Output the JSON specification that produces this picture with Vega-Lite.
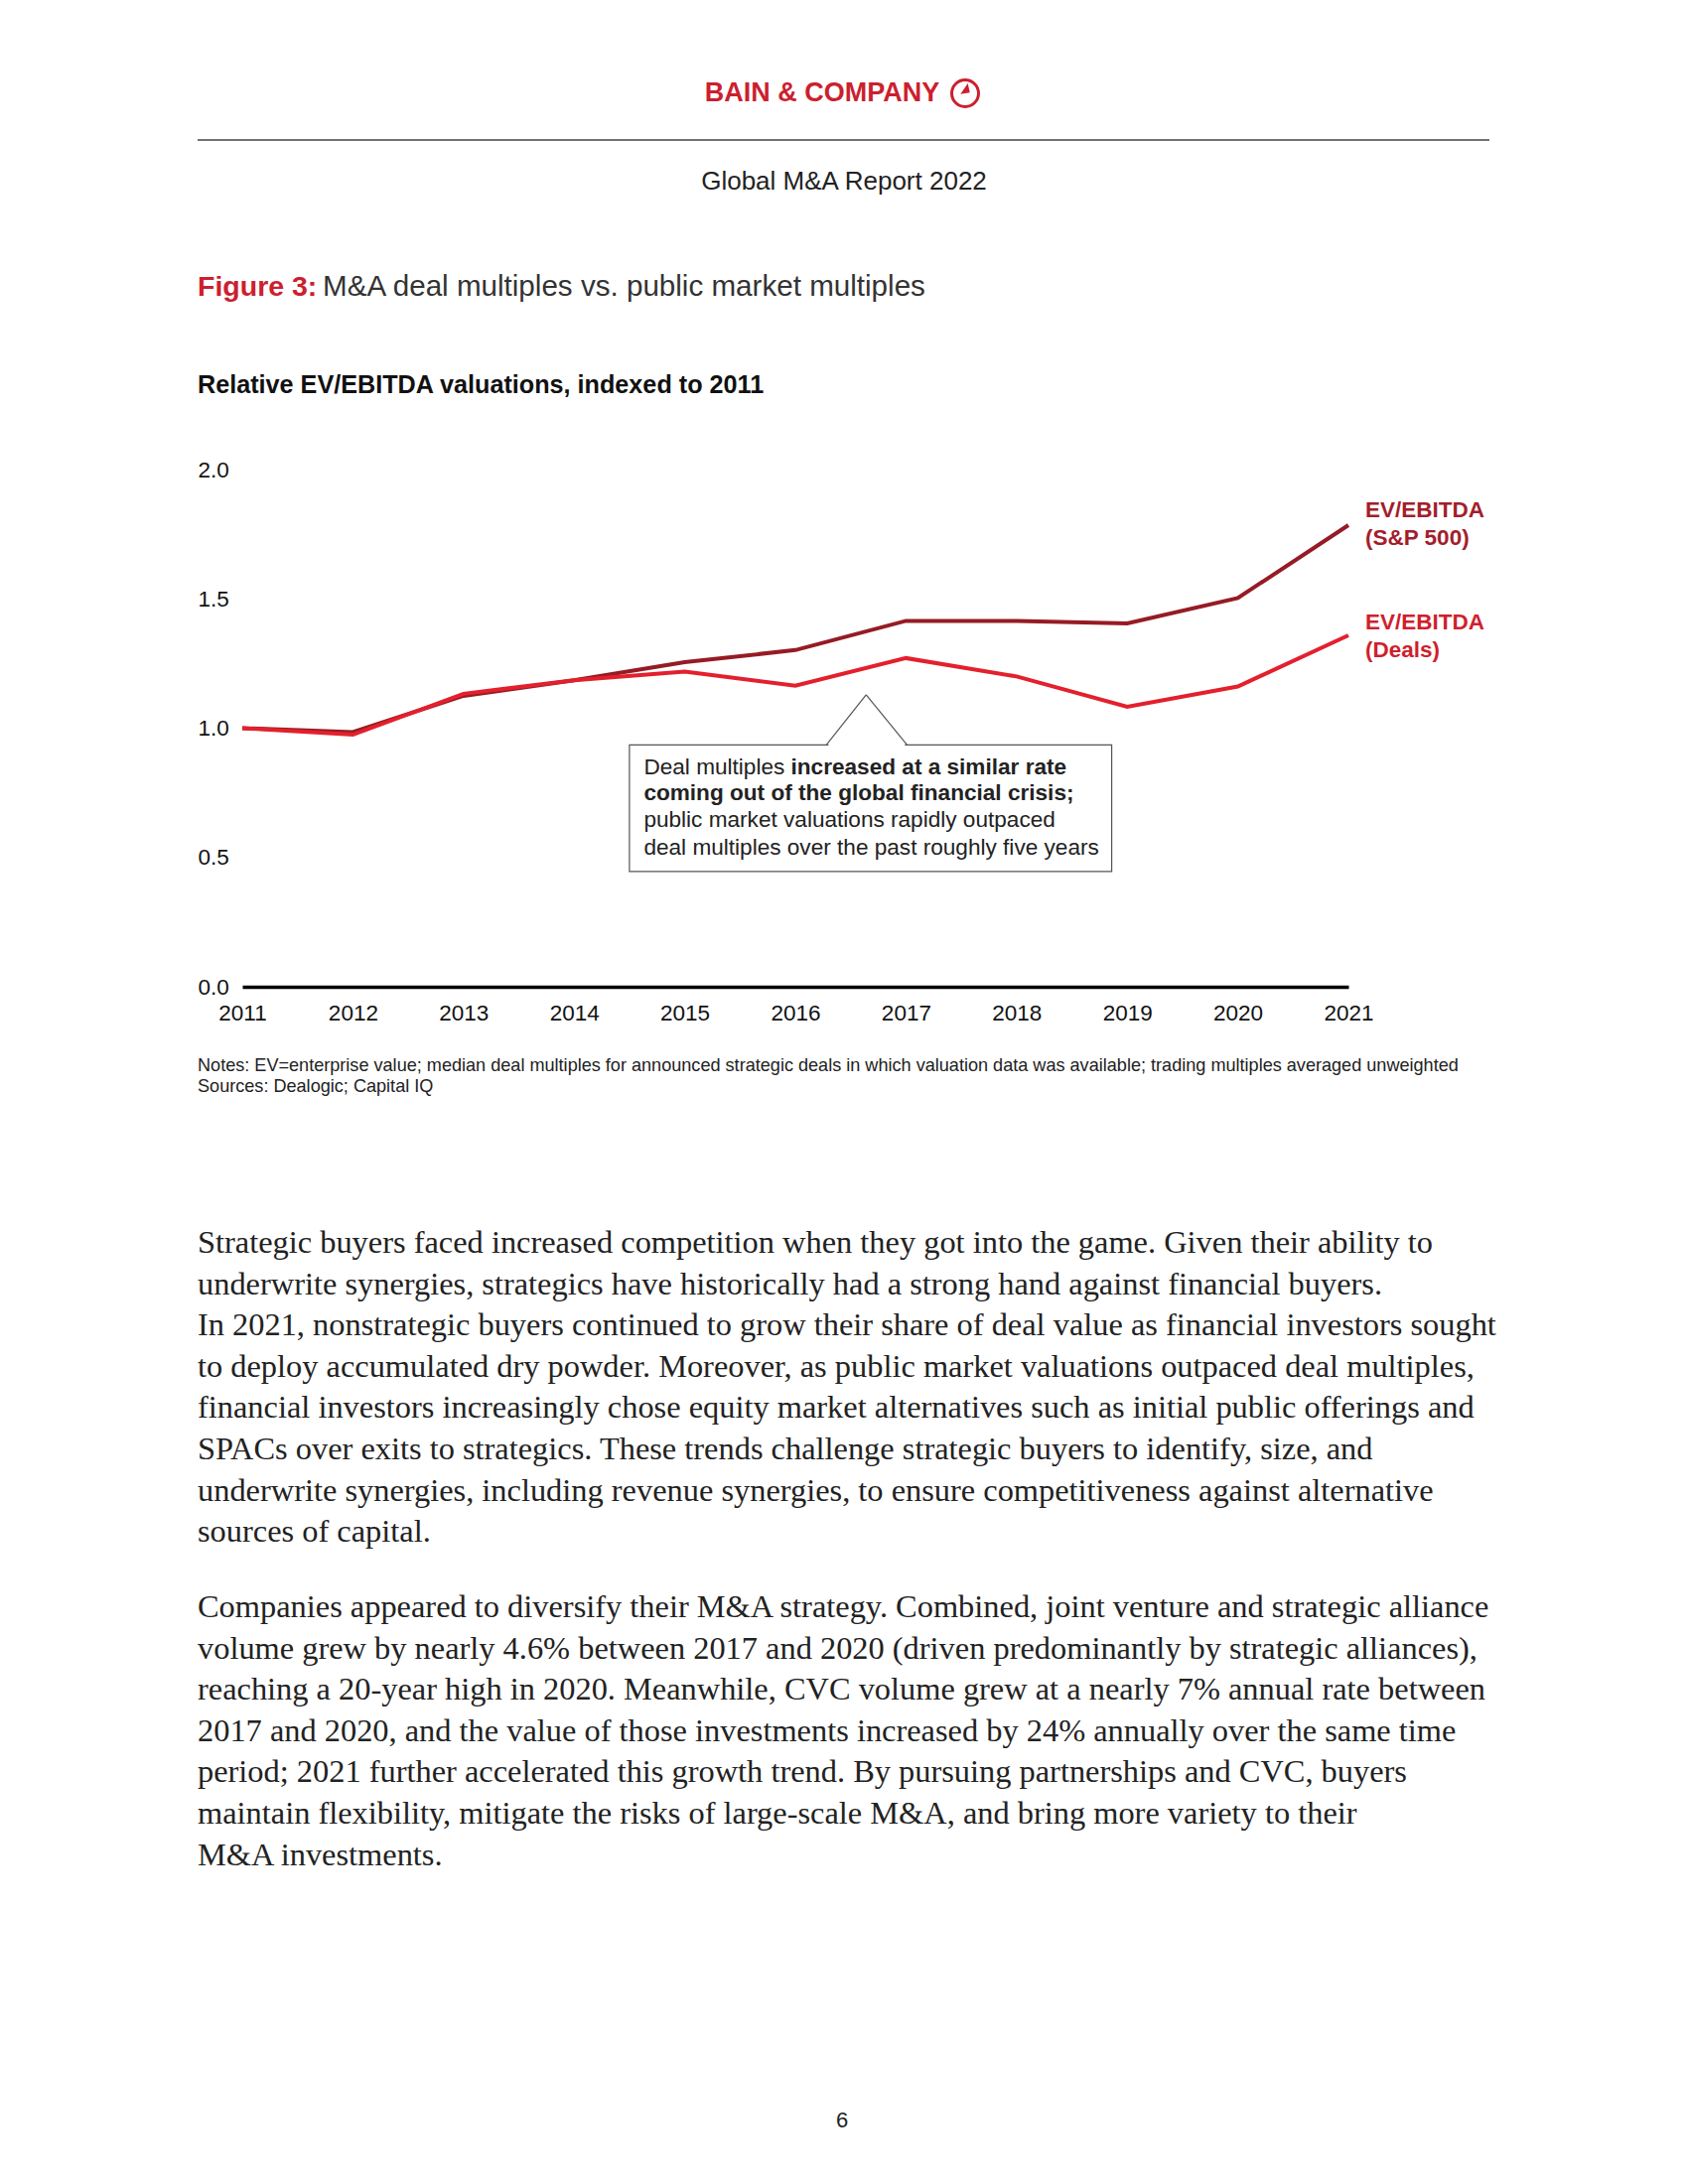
{
  "$schema": "https://vega.github.io/schema/vega-lite/v6.json",
  "width": 1114,
  "height": 521,
  "autosize": {"type": "none"},
  "padding": {"left": 244, "top": 473, "right": 342, "bottom": 1206},
  "background": "white",
  "config": {
    "view": {"stroke": null},
    "font": "Liberation Sans",
    "text": {"font": "Liberation Sans"}
  },
  "layer": [
    {
      "data": {"values": [
        {"year": 2011, "series": "S&P 500", "value": 1.0},
        {"year": 2012, "series": "S&P 500", "value": 0.985},
        {"year": 2013, "series": "S&P 500", "value": 1.125},
        {"year": 2014, "series": "S&P 500", "value": 1.185},
        {"year": 2015, "series": "S&P 500", "value": 1.255},
        {"year": 2016, "series": "S&P 500", "value": 1.302},
        {"year": 2017, "series": "S&P 500", "value": 1.415},
        {"year": 2018, "series": "S&P 500", "value": 1.415},
        {"year": 2019, "series": "S&P 500", "value": 1.405},
        {"year": 2020, "series": "S&P 500", "value": 1.503},
        {"year": 2021, "series": "S&P 500", "value": 1.785},
        {"year": 2011, "series": "Deals", "value": 1.0},
        {"year": 2012, "series": "Deals", "value": 0.975},
        {"year": 2013, "series": "Deals", "value": 1.133},
        {"year": 2014, "series": "Deals", "value": 1.185},
        {"year": 2015, "series": "Deals", "value": 1.219},
        {"year": 2016, "series": "Deals", "value": 1.164},
        {"year": 2017, "series": "Deals", "value": 1.271},
        {"year": 2018, "series": "Deals", "value": 1.2},
        {"year": 2019, "series": "Deals", "value": 1.083},
        {"year": 2020, "series": "Deals", "value": 1.161},
        {"year": 2021, "series": "Deals", "value": 1.359}
      ]},
      "mark": {"type": "line", "strokeWidth": 4, "strokeJoin": "miter"},
      "encoding": {
        "x": {
          "field": "year", "type": "quantitative",
          "scale": {"domain": [2011, 2021], "nice": false, "zero": false},
          "axis": {
            "values": [2011, 2012, 2013, 2014, 2015, 2016, 2017, 2018, 2019, 2020, 2021],
            "format": "d", "title": null, "grid": false, "ticks": false, "tickSize": 0,
            "domain": true, "domainColor": "#000000", "domainWidth": 3.5,
            "labelFont": "Liberation Sans", "labelFontSize": 22.5, "labelColor": "#111111",
            "labelPadding": 15, "labelBaseline": "top", "labelFlush": false, "labelOverlap": false
          }
        },
        "y": {
          "field": "value", "type": "quantitative",
          "scale": {"domain": [0, 2], "nice": false},
          "axis": {
            "values": [0, 0.5, 1, 1.5, 2], "format": ".1f", "title": null,
            "grid": false, "ticks": false, "tickSize": 0, "domain": false,
            "labelFont": "Liberation Sans", "labelFontSize": 22.5, "labelColor": "#111111",
            "labelAlign": "left", "labelPadding": 45, "labelBaseline": "middle"
          }
        },
        "color": {
          "field": "series", "type": "nominal",
          "scale": {"domain": ["S&P 500", "Deals"], "range": ["#961B24", "#E3202D"]},
          "legend": null
        }
      }
    },
    {
      "data": {"values": [{}]},
      "mark": {"type": "rect", "fill": "white", "stroke": "#555555", "strokeWidth": 1.2},
      "encoding": {
        "x": {"datum": 2014.5, "type": "quantitative"},
        "x2": {"datum": 2018.86},
        "y": {"datum": 0.935, "type": "quantitative"},
        "y2": {"datum": 0.446}
      }
    },
    {
      "data": {"values": [{}]},
      "mark": {"type": "rule", "stroke": "white", "strokeWidth": 3},
      "encoding": {
        "x": {"datum": 2016.3, "type": "quantitative"},
        "x2": {"datum": 2016.99},
        "y": {"datum": 0.935, "type": "quantitative"}
      }
    },
    {
      "data": {"values": [{}]},
      "mark": {"type": "rule", "stroke": "#555555", "strokeWidth": 1.2},
      "encoding": {
        "x": {"datum": 2016.28, "type": "quantitative"},
        "x2": {"datum": 2016.64},
        "y": {"datum": 0.935, "type": "quantitative"},
        "y2": {"datum": 1.129}
      }
    },
    {
      "data": {"values": [{}]},
      "mark": {"type": "rule", "stroke": "#555555", "strokeWidth": 1.2},
      "encoding": {
        "x": {"datum": 2016.64, "type": "quantitative"},
        "x2": {"datum": 2017.01},
        "y": {"datum": 1.129, "type": "quantitative"},
        "y2": {"datum": 0.935}
      }
    },
    {
      "data": {"values": [{}]},
      "mark": {"type": "text", "text": "Deal multiples", "align": "left", "baseline": "middle", "fontSize": 22.6, "color": "#222222"},
      "encoding": {"x": {"datum": 2014.63, "type": "quantitative"}, "y": {"datum": 0.849, "type": "quantitative"}}
    },
    {
      "data": {"values": [{}]},
      "mark": {"type": "text", "text": "increased at a similar rate", "align": "left", "baseline": "middle", "fontSize": 22.6, "fontWeight": "bold", "color": "#222222"},
      "encoding": {"x": {"datum": 2015.96, "type": "quantitative"}, "y": {"datum": 0.849, "type": "quantitative"}}
    },
    {
      "data": {"values": [{}]},
      "mark": {"type": "text", "text": "coming out of the global financial crisis;", "align": "left", "baseline": "middle", "fontSize": 22.6, "fontWeight": "bold", "color": "#222222"},
      "encoding": {"x": {"datum": 2014.63, "type": "quantitative"}, "y": {"datum": 0.747, "type": "quantitative"}}
    },
    {
      "data": {"values": [{}]},
      "mark": {"type": "text", "text": "public market valuations rapidly outpaced", "align": "left", "baseline": "middle", "fontSize": 22.6, "color": "#222222"},
      "encoding": {"x": {"datum": 2014.63, "type": "quantitative"}, "y": {"datum": 0.645, "type": "quantitative"}}
    },
    {
      "data": {"values": [{}]},
      "mark": {"type": "text", "text": "deal multiples over the past roughly five years", "align": "left", "baseline": "middle", "fontSize": 22.6, "color": "#222222"},
      "encoding": {"x": {"datum": 2014.63, "type": "quantitative"}, "y": {"datum": 0.538, "type": "quantitative"}}
    },
    {
      "data": {"values": [{}]},
      "mark": {"type": "text", "text": "EV/EBITDA", "align": "left", "baseline": "middle", "dx": 17, "fontSize": 22.5, "fontWeight": "bold", "color": "#A31E2C"},
      "encoding": {"x": {"datum": 2021, "type": "quantitative"}, "y": {"datum": 1.843, "type": "quantitative"}}
    },
    {
      "data": {"values": [{}]},
      "mark": {"type": "text", "text": "(S&P 500)", "align": "left", "baseline": "middle", "dx": 17, "fontSize": 22.5, "fontWeight": "bold", "color": "#A31E2C"},
      "encoding": {"x": {"datum": 2021, "type": "quantitative"}, "y": {"datum": 1.736, "type": "quantitative"}}
    },
    {
      "data": {"values": [{}]},
      "mark": {"type": "text", "text": "EV/EBITDA", "align": "left", "baseline": "middle", "dx": 17, "fontSize": 22.5, "fontWeight": "bold", "color": "#D01F2E"},
      "encoding": {"x": {"datum": 2021, "type": "quantitative"}, "y": {"datum": 1.407, "type": "quantitative"}}
    },
    {
      "data": {"values": [{}]},
      "mark": {"type": "text", "text": "(Deals)", "align": "left", "baseline": "middle", "dx": 17, "fontSize": 22.5, "fontWeight": "bold", "color": "#D01F2E"},
      "encoding": {"x": {"datum": 2021, "type": "quantitative"}, "y": {"datum": 1.3, "type": "quantitative"}}
    },
    {
      "data": {"values": [{}]},
      "mark": {"type": "text", "text": "BAIN & COMPANY", "align": "center", "baseline": "middle", "fontSize": 27, "fontWeight": "bold", "color": "#CC1F2F"},
      "encoding": {"x": {"value": 584}, "y": {"value": -379}}
    },
    {
      "data": {"values": [{}]},
      "mark": {"type": "point", "shape": "circle", "size": 729, "filled": false, "stroke": "#CC1F2F", "strokeWidth": 3, "opacity": 1},
      "encoding": {"x": {"value": 728}, "y": {"value": -379}}
    },
    {
      "data": {"values": [{}]},
      "mark": {"type": "point", "shape": "M-0.35,0.05 L0.2,-0.75 L0.35,-0.05 Z", "size": 729, "filled": true, "fill": "#CC1F2F", "strokeWidth": 0, "opacity": 1},
      "encoding": {"x": {"value": 728}, "y": {"value": -379}}
    },
    {
      "data": {"values": [{}]},
      "mark": {"type": "rule", "stroke": "#444444", "strokeWidth": 1.5},
      "encoding": {"x": {"value": -45}, "x2": {"value": 1256}, "y": {"value": -332}}
    },
    {
      "data": {"values": [{}]},
      "mark": {"type": "text", "text": "Global M&A Report 2022", "align": "center", "baseline": "middle", "fontSize": 26, "color": "#222222"},
      "encoding": {"x": {"value": 606}, "y": {"value": -290}}
    },
    {
      "data": {"values": [{}]},
      "mark": {"type": "text", "text": "Figure 3:", "align": "left", "baseline": "middle", "fontSize": 28.5, "fontWeight": "bold", "color": "#CC1F2F"},
      "encoding": {"x": {"value": -45}, "y": {"value": -184}}
    },
    {
      "data": {"values": [{}]},
      "mark": {"type": "text", "text": "M&A deal multiples vs. public market multiples", "align": "left", "baseline": "middle", "fontSize": 29.6, "color": "#333333"},
      "encoding": {"x": {"value": 81}, "y": {"value": -184}}
    },
    {
      "data": {"values": [{}]},
      "mark": {"type": "text", "text": "Relative EV/EBITDA valuations, indexed to 2011", "align": "left", "baseline": "middle", "fontSize": 25.2, "fontWeight": "bold", "color": "#111111"},
      "encoding": {"x": {"value": -45}, "y": {"value": -85}}
    },
    {
      "data": {"values": [{}]},
      "mark": {"type": "text", "text": "Notes: EV=enterprise value; median deal multiples for announced strategic deals in which valuation data was available; trading multiples averaged unweighted", "align": "left", "baseline": "middle", "fontSize": 18.1, "color": "#222222"},
      "encoding": {"x": {"value": -45}, "y": {"value": 601}}
    },
    {
      "data": {"values": [{}]},
      "mark": {"type": "text", "text": "Sources: Dealogic; Capital IQ", "align": "left", "baseline": "middle", "fontSize": 18.1, "color": "#222222"},
      "encoding": {"x": {"value": -45}, "y": {"value": 622}}
    },
    {
      "data": {"values": [{}]},
      "mark": {
        "type": "text", "align": "left", "baseline": "alphabetic", "font": "Liberation Serif", "fontSize": 32.4, "lineHeight": 41.6, "color": "#222222",
        "text": [
          "Strategic buyers faced increased competition when they got into the game. Given their ability to",
          "underwrite synergies, strategics have historically had a strong hand against financial buyers.",
          "In 2021, nonstrategic buyers continued to grow their share of deal value as financial investors sought",
          "to deploy accumulated dry powder. Moreover, as public market valuations outpaced deal multiples,",
          "financial investors increasingly chose equity market alternatives such as initial public offerings and",
          "SPACs over exits to strategics. These trends challenge strategic buyers to identify, size, and",
          "underwrite synergies, including revenue synergies, to ensure competitiveness against alternative",
          "sources of capital."
        ]
      },
      "encoding": {"x": {"value": -45}, "y": {"value": 789}}
    },
    {
      "data": {"values": [{}]},
      "mark": {
        "type": "text", "align": "left", "baseline": "alphabetic", "font": "Liberation Serif", "fontSize": 32.4, "lineHeight": 41.6, "color": "#222222",
        "text": [
          "Companies appeared to diversify their M&A strategy. Combined, joint venture and strategic alliance",
          "volume grew by nearly 4.6% between 2017 and 2020 (driven predominantly by strategic alliances),",
          "reaching a 20-year high in 2020. Meanwhile, CVC volume grew at a nearly 7% annual rate between",
          "2017 and 2020, and the value of those investments increased by 24% annually over the same time",
          "period; 2021 further accelerated this growth trend. By pursuing partnerships and CVC, buyers",
          "maintain flexibility, mitigate the risks of large-scale M&A, and bring more variety to their",
          "M&A investments."
        ]
      },
      "encoding": {"x": {"value": -45}, "y": {"value": 1156}}
    },
    {
      "data": {"values": [{}]},
      "mark": {"type": "text", "text": "6", "align": "center", "baseline": "middle", "fontSize": 22, "color": "#222222"},
      "encoding": {"x": {"value": 604}, "y": {"value": 1663}}
    }
  ]
}
